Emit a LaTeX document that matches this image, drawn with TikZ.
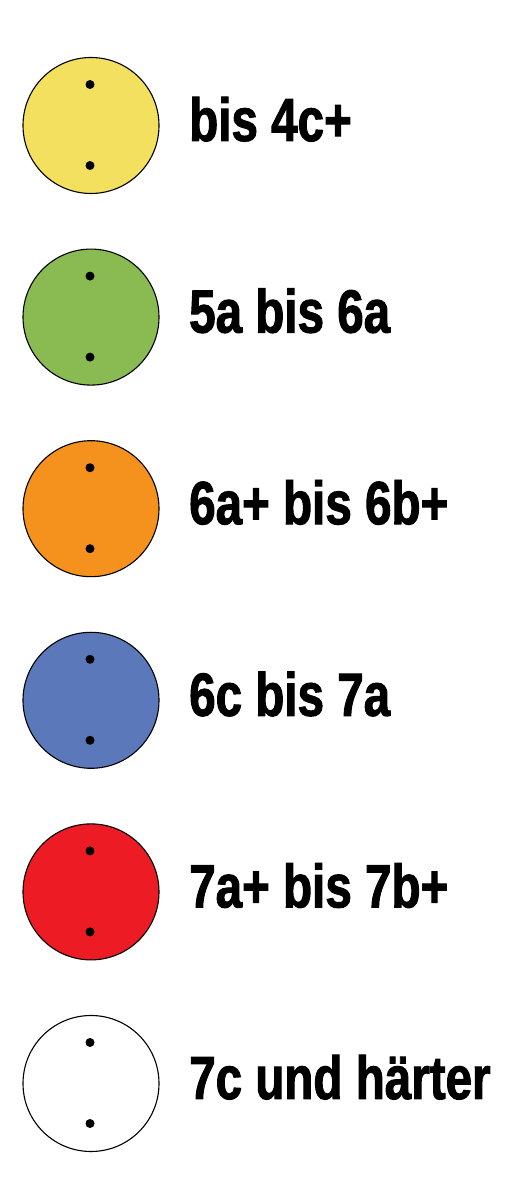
\documentclass[tikz,border=0pt]{standalone}
\usepackage{fontspec}
\setmainfont{Liberation Sans}[FakeStretch=0.78,BoldFeatures={FakeBold=1.6}]
\usetikzlibrary{positioning}
\definecolor{gradeyellow}{RGB}{242,224,94}
\definecolor{gradegreen}{RGB}{138,187,82}
\definecolor{gradeorange}{RGB}{245,146,30}
\definecolor{gradeblue}{RGB}{91,120,186}
\definecolor{gradered}{RGB}{237,28,36}
\tikzset{
    % Hold disc
    hold/.style={circle,draw=black,line width=1.1pt,minimum size=136pt,inner sep=0pt},
    % Screw hole
    hole/.style={circle,fill=black,minimum size=9pt,inner sep=0pt},
    % Grade label
    grade/.style={anchor=base west,inner sep=0pt,font=\fontsize{61}{72}\selectfont\bfseries}
}
\begin{document}
\begin{tikzpicture}[x=1pt,y=1pt]
    \useasboundingbox (0,0) rectangle (521,1200);

    % Discs with their labels
    \foreach \i/\col/\txt in {0/gradeyellow/bis 4c+,1/gradegreen/5a bis 6a,2/gradeorange/6a+ bis 6b+,3/gradeblue/6c bis 7a,4/gradered/7a+ bis 7b+,5/white/7c und härter} {
        \node[hold,fill=\col] (disc\i) at (91,{1200-125.5-191.6*\i}) {};
        \node[hole] (top\i) at ([xshift=-1pt,yshift=41pt]disc\i.center) {};
        \node[hole] (bot\i) at ([xshift=-1pt,yshift=-40pt]disc\i.center) {};
        \node[grade] (lab\i) at ([yshift=-15.5pt]189,{1200-125.5-191.6*\i}) {\txt};
    }
\end{tikzpicture}
\end{document}
